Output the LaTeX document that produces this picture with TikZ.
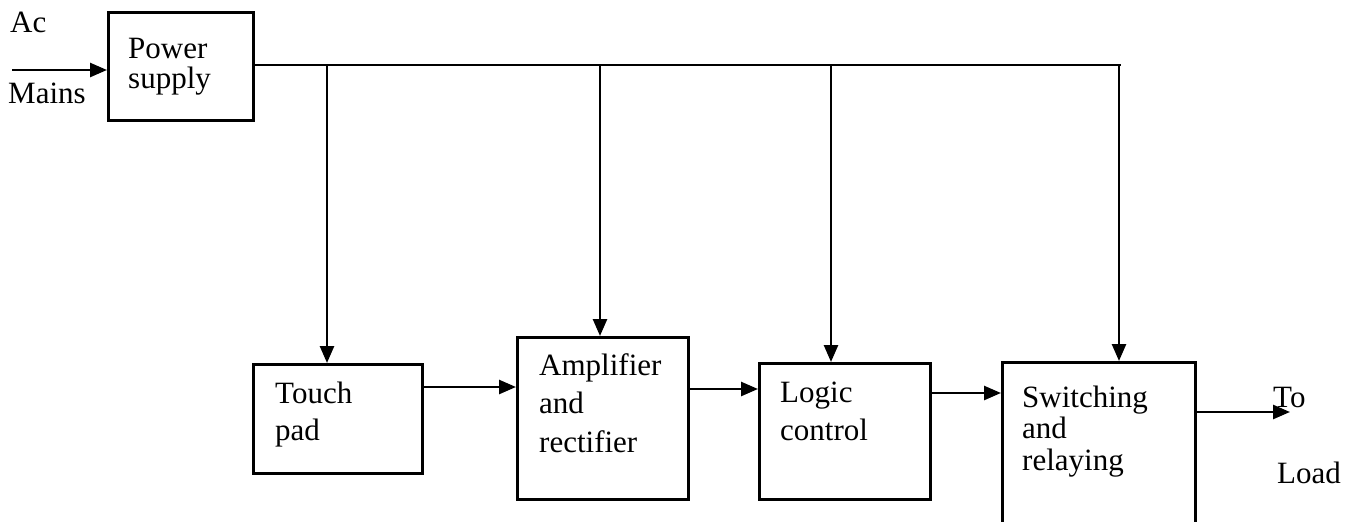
\documentclass[tikz,border=0pt]{standalone}
\usepackage{fontspec}
\setmainfont{Liberation Serif}
\usetikzlibrary{arrows.meta}

\tikzset{
  blk/.style={draw, line width=2.6pt, rectangle, inner sep=0pt, anchor=north west},
  % captions are placed by the baseline of their last line
  txt/.style={inner sep=0pt, anchor=base west, align=left, font=\fontsize{31}{#1}\selectfont},
  txt/.default=36,
  wire/.style={line width=2.6pt},
  arr/.style={wire, -{Triangle[length=17pt,width=14pt]}}
}

\begin{document}
\begin{tikzpicture}[x=1pt, y=-1pt]
  \useasboundingbox (0,0) rectangle (1361,522);

  % blocks (top-left corner, size)
  \node[blk, minimum width=145pt, minimum height=108pt] (ps)  at (107,11)  {};
  \node[blk, minimum width=169pt, minimum height=109pt] (tp)  at (252,363) {};
  \node[blk, minimum width=171pt, minimum height=162pt] (amp) at (516,336) {};
  \node[blk, minimum width=171pt, minimum height=136pt] (lc)  at (758,362) {};
  \node[blk, minimum width=193pt, minimum height=164pt] (sw)  at (1001,361) {};

  % block captions
  \node[txt=30]   (ps-t)  at (128,88)  {Power\\supply};
  \node[txt=37]   (tp-t)  at (275,440) {Touch\\pad};
  \node[txt=38.5] (amp-t) at (539,452) {Amplifier\\and\\rectifier};
  \node[txt=38]   (lc-t)  at (780,440) {Logic\\control};
  \node[txt=31.5] (sw-t)  at (1022,470) {Switching\\and\\relaying};

  % input and output labels
  \node[txt] (ac)    at (10,32)    {Ac};
  \node[txt] (mains) at (8,103)    {Mains};
  \node[txt] (to)    at (1273,407) {To};
  \node[txt] (load)  at (1277,483) {Load};

  % free ends of the connectors
  \coordinate (acin)   at (12,70);
  \coordinate (busend) at (1121,65);
  \coordinate (t1) at (327,65);
  \coordinate (t2) at (600,65);
  \coordinate (t3) at (831,65);
  \coordinate (t4) at (1119,65);
  \coordinate (out) at (1290,412);

  % mains into the power supply
  \draw[arr] (acin) -- (acin -| ps.west);

  % supply bus and its drops
  \draw[wire] (ps.east |- busend) -- (busend);
  \draw[arr] (t1) -- (t1 |- tp.north);
  \draw[arr] (t2) -- (t2 |- amp.north);
  \draw[arr] (t3) -- (t3 |- lc.north);
  \draw[arr] (t4) -- (t4 |- sw.north);

  % signal chain
  \draw[arr] (tp.east |- 0,387)  -- (amp.west |- 0,387);
  \draw[arr] (amp.east |- 0,389) -- (lc.west |- 0,389);
  \draw[arr] (lc.east |- 0,393)  -- (sw.west |- 0,393);
  \draw[arr] (sw.east |- out) -- (out);
\end{tikzpicture}
\end{document}
